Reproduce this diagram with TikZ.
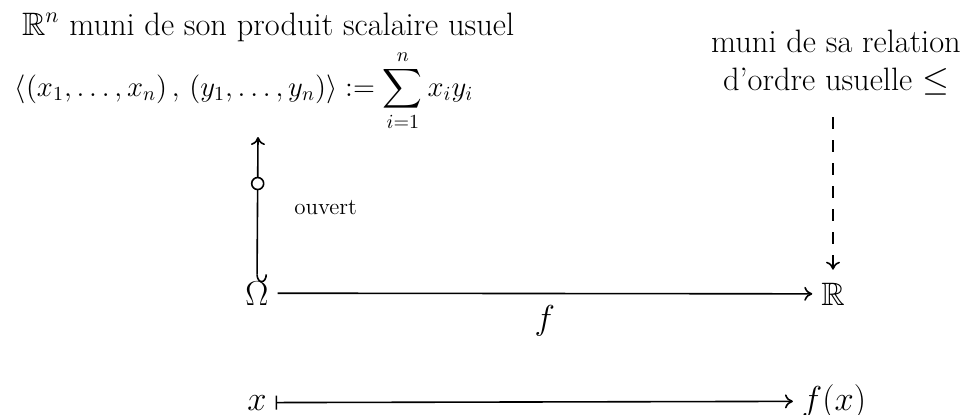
\documentclass[tikz,border=0pt]{standalone}
\usepackage{amssymb}
\usetikzlibrary{arrows.meta}
\tikzset{
  lbl/.style={inner sep=0pt, outer sep=0pt},
  obj/.style={inner sep=0pt, outer sep=4.5pt},
  tip/.tip={To[length=4pt,width=7pt]},
  cdarrow/.style={draw, line width=0.8pt, -tip},
  smalllbl/.style={inner sep=0pt, font=\fontsize{11.5}{13}\selectfont},
}
\begin{document}
\begin{tikzpicture}[x=0.5pt,y=-0.5pt, font=\fontsize{16.2}{20}\selectfont]
\useasboundingbox (0,0) rectangle (965,414);
\node[lbl, anchor=base west] (t1) at (22,35) {$\mathbb{R}^n$ muni de son produit scalaire usuel};
\node[lbl, anchor=base, font=\fontsize{13.8}{18}\selectfont] (t2) at (244,96) {$\displaystyle\langle(x_1,\dots,x_n)\,,\,(y_1,\dots,y_n)\rangle := \sum_{i=1}^{n} x_i y_i$};
\node[lbl, anchor=base] (t3) at (836,52) {muni de sa relation};
\node[lbl, anchor=base] (t4) at (836,90) {d'ordre usuelle $\leq$};
\node[obj, anchor=base] (om) at (257,305) {$\Omega$};
\node[obj, anchor=base] (rr) at (833,305) {$\mathbb{R}$};
\node[obj, anchor=base] (x) at (257,410) {$x$};
\node[obj, anchor=base] (fx) at (834,410) {$f(x)$};
\coordinate (top) at (258,137);
\coordinate (dtop) at (833,117);
\draw[cdarrow] (om.east) -- node[lbl, midway, yshift=-13.5pt] (f) {$f$} (rr.west);
\draw[cdarrow, {Hooks[left,length=4pt,width=10pt]}-tip] ([yshift=-5pt]om.north) -- node[pos=0.68, circle, draw, line width=0.8pt, fill=white, inner sep=0pt, minimum size=6pt] (c) {} (top);
\node[smalllbl, anchor=base west] (ouv) at (294,214) {ouvert};
\draw[cdarrow, dash pattern=on 6pt off 5.5pt] (dtop) -- ([yshift=2pt]rr.north);
\draw[cdarrow, {Bar[width=7pt]}-tip] (x.east) -- (fx.west);
\end{tikzpicture}
\end{document}
